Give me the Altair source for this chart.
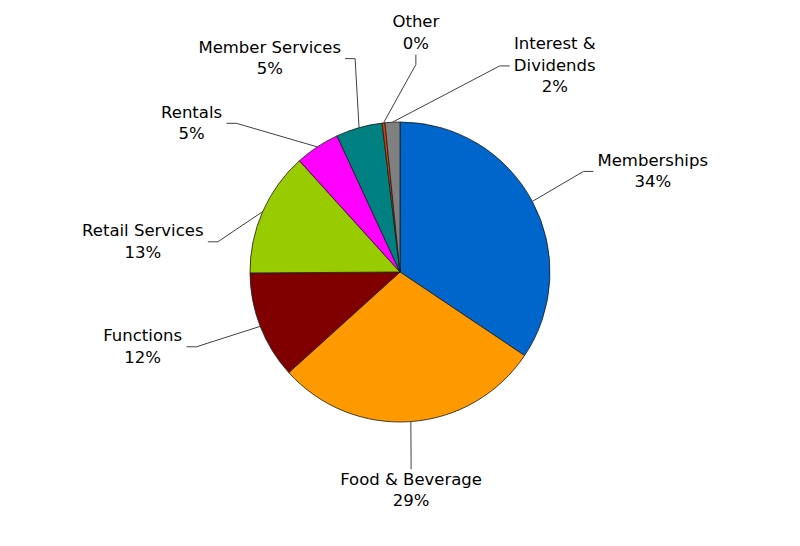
import math
import altair as alt
import pandas as pd

# ---- data ----
categories = ["Memberships", "Food & Beverage", "Functions", "Retail Services",
              "Rentals", "Member Services", "Other", "Interest & Dividends"]
shares = [34.4, 28.9, 11.6, 13.4, 4.8, 5.0, 0.3, 1.6]
label_names = [["Memberships"], ["Food & Beverage"], ["Functions"], ["Retail Services"],
               ["Rentals"], ["Member Services"], ["Other"], ["Interest &", "Dividends"]]
colors = ["#0066CC", "#FF9900", "#800000", "#99CC00",
          "#FF00FF", "#008080", "#E63E00", "#808080"]

# ---- layout ----
W, H = 800, 546
CX, CY, R = 400, 272, 150
FONT = "DejaVu Sans"
FONT_SIZE = 16.5
LINE_H = 21.5
label_angle = [68.3, 177.1, 253.8, 276.7, 305.5, 328.6, 3.8, 36.9]
label_radius = [272, 219, 268, 259, 256, 250, 239.5, 257.7]
label_side = ["right", "bottom", "left", "left", "left", "left", "top", "right"]
GAP, ELBOW = 4, 10

# DejaVu Sans advance widths (em) for text width estimates
CW = {' ': .318, '%': .952, '&': .779, 'B': .686, 'D': .770, 'F': .575, 'I': .295,
      'M': .863, 'O': .787, 'R': .695, 'S': .635, 'a': .613, 'b': .635, 'c': .550,
      'd': .635, 'e': .615, 'g': .635, 'h': .634, 'i': .278, 'l': .278, 'm': .974,
      'n': .634, 'o': .612, 'p': .635, 'r': .411, 's': .521, 't': .392, 'u': .634,
      'v': .592}


def text_w(s):
    return sum(CW.get(ch, .63 if ch.isdigit() else .6) for ch in s) * FONT_SIZE


def polar(a_deg, r):
    a = math.radians(a_deg)
    return CX + r * math.sin(a), CY - r * math.cos(a)


total = sum(shares)
pie_rows, line_rows, text_rows = [], [], []
cum = 0.0
for i, (cat, v) in enumerate(zip(categories, shares)):
    pie_rows.append({"idx": i, "category": cat, "share": v})
    mid = (cum + v / 2) / total * 360
    cum += v
    pct = f"{round(v / total * 100)}%"
    lines = label_names[i] + [pct]
    lx, ly = polar(label_angle[i], label_radius[i])
    # vega places the first line at y; shift so the block is centred on (lx, ly)
    text_rows.append({"x": lx, "y": ly - (len(lines) - 1) * LINE_H / 2,
                      "label": "\n".join(lines)})
    half_w = max(text_w(s) for s in lines) / 2
    half_h = len(lines) * LINE_H / 2
    side = label_side[i]
    if side == "left":
        ex, ey = lx + half_w + GAP, ly
        px, py = ex + ELBOW, ey
    elif side == "right":
        ex, ey = lx - half_w - GAP, ly
        px, py = ex - ELBOW, ey
    elif side == "top":
        ex, ey = lx, ly + half_h
        px, py = ex, ey + ELBOW
    else:
        ex, ey = lx, ly - half_h
        px, py = ex, ey - ELBOW
    sx, sy = polar(mid, R)
    for k, (x, y) in enumerate([(sx, sy), (px, py), (ex, ey)]):
        line_rows.append({"cat": cat, "pt": k, "x": x, "y": y})

pie_df = pd.DataFrame(pie_rows)
line_df = pd.DataFrame(line_rows)
text_df = pd.DataFrame(text_rows)

xs = alt.X("x:Q", scale=alt.Scale(domain=[0, W], nice=False, zero=False), axis=None)
ys = alt.Y("y:Q", scale=alt.Scale(domain=[0, H], nice=False, zero=False, reverse=True), axis=None)

pie = alt.Chart(pie_df).mark_arc(outerRadius=R, stroke="#1a1a1a", strokeWidth=0.8).encode(
    theta=alt.Theta("share:Q", stack=True),
    color=alt.Color("category:N", scale=alt.Scale(domain=categories, range=colors), legend=None),
    order=alt.Order("idx:Q"),
    x=alt.value(CX),
    y=alt.value(CY),
)

leaders = alt.Chart(line_df).mark_line(color="#404040", strokeWidth=1).encode(
    x=xs, y=ys, detail="cat:N", order="pt:Q"
)

labels = alt.Chart(text_df).mark_text(
    font=FONT, fontSize=FONT_SIZE, lineBreak="\n", lineHeight=LINE_H,
    align="center", baseline="middle", color="#000000"
).encode(x=xs, y=ys, text="label:N")

chart = alt.layer(pie, leaders, labels).properties(
    width=W, height=H, padding=0, autosize="none", background="white"
).configure_view(stroke=None)

chart.save("out.html", embed_options={"renderer": "svg", "actions": False})
